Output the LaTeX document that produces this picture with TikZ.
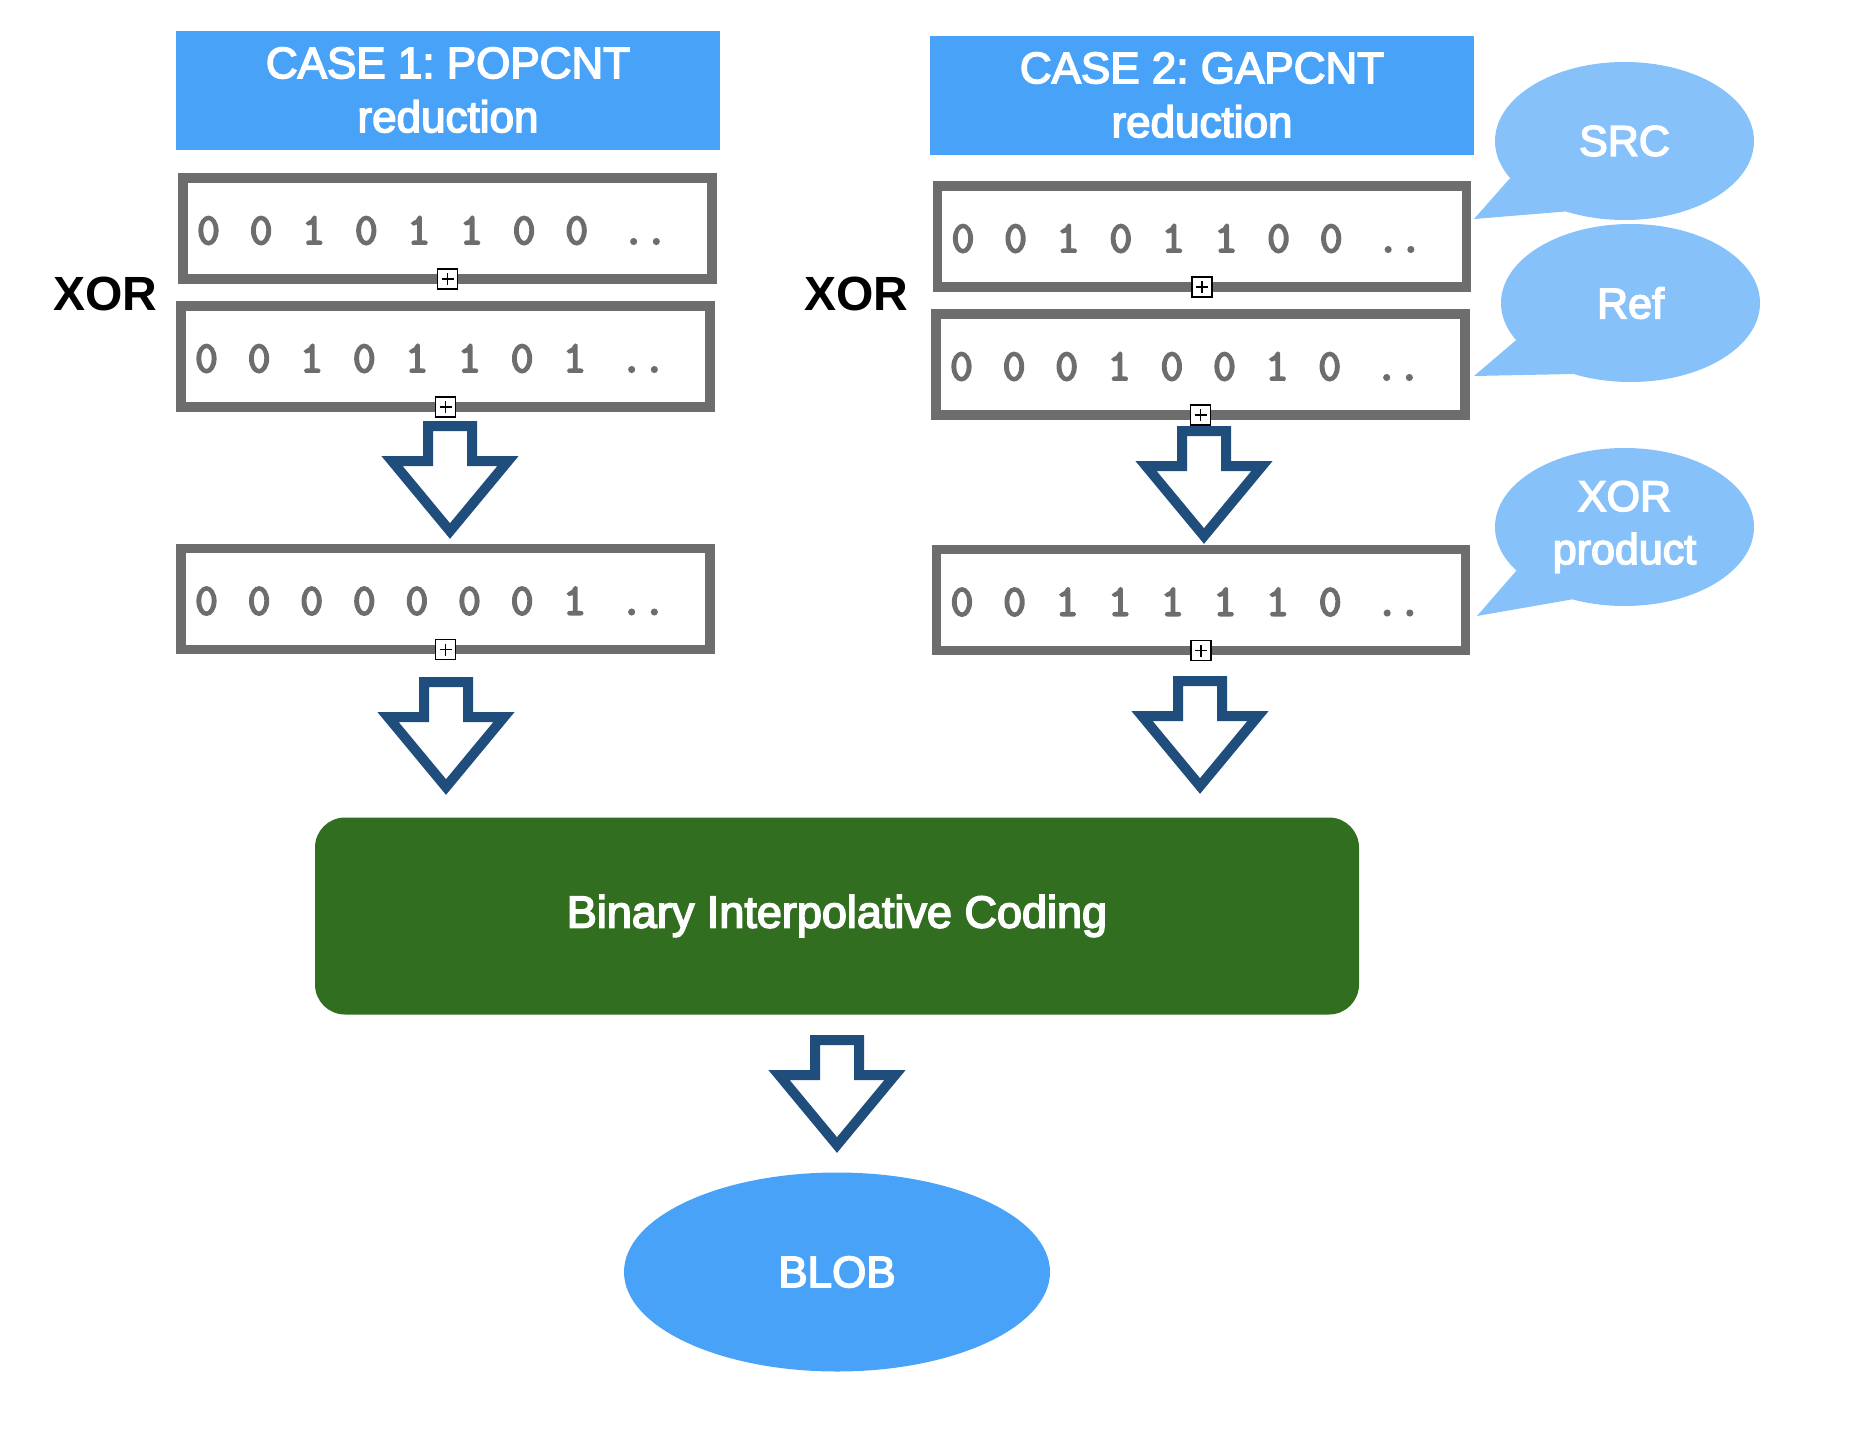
\documentclass[tikz,border=0pt]{standalone}
\usepackage{fontspec}
\setmainfont{Liberation Sans}
\newfontfamily\medfont[FakeBold=3.5]{Liberation Sans}
\newfontfamily\bitfont[FakeBold=4.5]{Latin Modern Mono}
\frenchspacing
\usetikzlibrary{positioning,shapes.geometric,calc}

\definecolor{headblue}{HTML}{48A3F8}
\definecolor{tipblue}{HTML}{86C1F9}
\definecolor{arrowblue}{HTML}{1F4E7D}
\definecolor{boxgray}{HTML}{6D6D6D}
\definecolor{codegreen}{HTML}{316E1F}

\tikzset{
  header/.style={fill=headblue, text=white, minimum width=544pt, minimum height=119pt,
    align=center, font=\fontsize{44}{54}\medfont},
  bits/.style={draw=boxgray, line width=9.5pt, outer sep=0pt, minimum width=529pt,
    minimum height=101pt},
  bit/.style={text=boxgray, inner sep=0pt, anchor=base, font=\fontsize{44}{50}\bitfont},
  xorsign/.style={draw=black, fill=white, line width=1.5pt, minimum size=20pt, inner sep=0pt,
    path picture={\draw[line width=1.4pt]
      ($(path picture bounding box.west)!.2!(path picture bounding box.east)$) --
      ($(path picture bounding box.west)!.8!(path picture bounding box.east)$)
      ($(path picture bounding box.north)!.2!(path picture bounding box.south)$) --
      ($(path picture bounding box.north)!.8!(path picture bounding box.south)$);}},
  bubble/.style={ellipse, fill=tipblue, text=white, minimum width=259pt, minimum height=158pt,
    align=center, font=\fontsize{43}{53}\medfont},
  xorlabel/.style={font=\fontsize{48}{54}\selectfont\bfseries},
  blockdown/.pic={
    \draw[arrowblue, fill=white, line width=10pt]
      (-22,5) -- (22,5) -- (22,40) -- (58,40) -- (0,110) -- (-58,40) -- (-22,40) -- cycle;}
}

% one row of bits inside a box
\newcommand{\bitrow}[2]{%
  \foreach \d [count=\i from 0] in {#2}
    \node[bit] (#1-\i) at ($(#1.west)+(25.5+52.6*\i,15.5)$) {\d};
  \node[bit] (#1-dots) at ($(#1.west)+(462,15.5)$) {..};}

\begin{document}
\begin{tikzpicture}[x=1pt, y=-1pt]
    \useasboundingbox (0,0) rectangle (1856,1430);

    % the two cases
    \node[header] (h1) at (448,90) {CASE 1: POPCNT\\reduction};
    \node[header] (h2) at (1202,95) {CASE 2: GAPCNT\\reduction};

    \node[bits] (b1a) at (447.5,228.5) {};
    \node[bits] (b1b) at (445.5,356.5) {};
    \node[bits] (b1c) at (445.5,599) {};
    \node[bits] (b2a) at (1202,236.5) {};
    \node[bits] (b2b) at (1200.5,364.5) {};
    \node[bits] (b2c) at (1201,600) {};
    \bitrow{b1a}{0,0,1,0,1,1,0,0}
    \bitrow{b1b}{0,0,1,0,1,1,0,1}
    \bitrow{b1c}{0,0,0,0,0,0,0,1}
    \bitrow{b2a}{0,0,1,0,1,1,0,0}
    \bitrow{b2b}{0,0,0,1,0,0,1,0}
    \bitrow{b2c}{0,0,1,1,1,1,1,0}

    \foreach \b in {b1a,b1b,b1c,b2a,b2b,b2c}
        \node[xorsign] (m-\b) at (\b.south) {};

    \node[xorlabel] (xl) at (105.5,293.5) {XOR};
    \node[xorlabel] (xr) at (856,293.5) {XOR};

    % callouts
    \node[bubble] (src) at (1624.5,141) {SRC};
    \node[bubble] (ref) at (1630.5,303) {Ref};
    \node[bubble] (xprod) at (1624.5,527) {XOR\\product};
    \fill[tipblue] (src.198) -- ($(b2a.east)+(7.5,-17.5)$) -- (src.230) -- cycle;
    \fill[tipblue] (ref.198) -- ($(b2b.east)+(9,11.5)$) -- (ref.231) -- cycle;
    \fill[tipblue] (xprod.202) -- ($(b2c.east)+(11.5,16)$) -- (xprod.234) -- cycle;

    % coding and output
    \node[fill=codegreen, rounded corners=30pt, minimum width=1044pt, minimum height=197pt,
        text=white, font=\fontsize{45}{50}\medfont] (bic) at (837,916) {Binary Interpolative Coding};
    \node[ellipse, fill=headblue, minimum width=426pt, minimum height=199pt, text=white,
        font=\fontsize{44}{50}\medfont] (blob) at (837,1272) {BLOB};

    \pic (arr1) at (450,421) {blockdown};
    \pic (arr2) at (446,677) {blockdown};
    \pic (arr3) at (1204,426) {blockdown};
    \pic (arr4) at (1200,676) {blockdown};
    \pic (arr5) at (837,1035) {blockdown};
\end{tikzpicture}
\end{document}
